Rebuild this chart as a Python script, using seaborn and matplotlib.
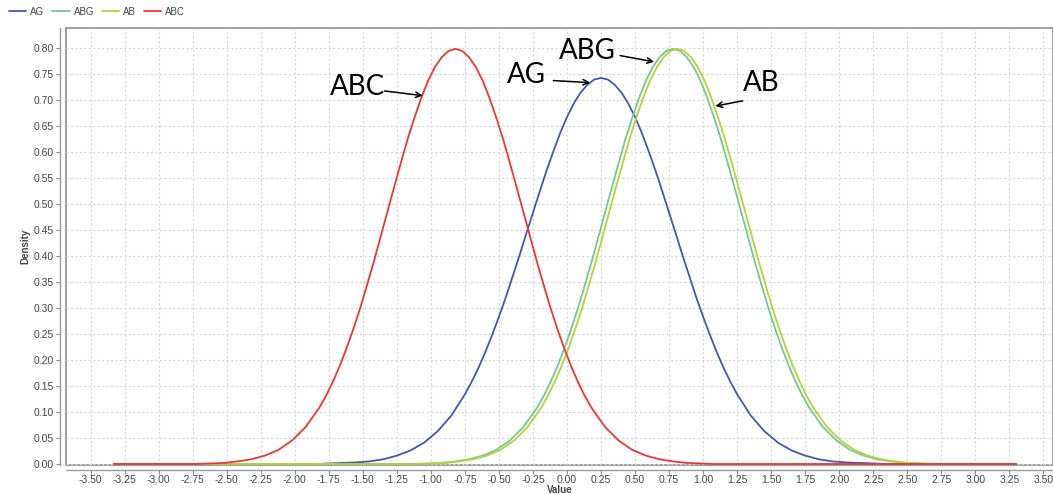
import pandas as pd
import seaborn as sns
from matplotlib import pyplot as plt
from matplotlib.patches import Rectangle
from matplotlib.ticker import MultipleLocator, FormatStrFormatter

# density curves (flat tails at 0 to the plot ends)
ag_x = [-3.33, -1.95, -1.85, -1.75, -1.65, -1.55, -1.45, -1.35, -1.25, -1.15, -1.05, -0.95, -0.85,
        -0.75, -0.70, -0.65, -0.60, -0.55, -0.50, -0.45, -0.40, -0.35, -0.30, -0.25, -0.20,
        -0.15, -0.10, -0.05, 0.00, 0.05, 0.10, 0.15, 0.20, 0.25, 0.30, 0.35, 0.40, 0.45,
        0.50, 0.55, 0.60, 0.65, 0.70, 0.75, 0.80, 0.85, 0.90, 0.95, 1.00, 1.05, 1.10,
        1.15, 1.20, 1.25, 1.35, 1.45, 1.55, 1.65, 1.75, 1.85, 1.95, 2.05, 2.15, 2.25,
        2.35, 2.45, 3.30]
ag_y = [0.0, 0.000, 0.000, 0.001, 0.002, 0.003, 0.005, 0.009, 0.016, 0.026, 0.041, 0.063, 0.093,
        0.134, 0.158, 0.185, 0.215, 0.248, 0.283, 0.320, 0.360, 0.400, 0.442, 0.483, 0.524,
        0.564, 0.601, 0.636, 0.667, 0.693, 0.714, 0.729, 0.739, 0.742, 0.739, 0.729, 0.714, 0.693,
        0.667, 0.636, 0.601, 0.564, 0.524, 0.483, 0.442, 0.400, 0.360, 0.320, 0.283, 0.248, 0.215,
        0.185, 0.158, 0.134, 0.093, 0.063, 0.041, 0.026, 0.016, 0.009, 0.005, 0.003, 0.002, 0.001,
        0.000, 0.000, 0.0]

abg_x = [-3.33, -1.12, -1.02, -0.92, -0.82, -0.72, -0.62, -0.52, -0.42, -0.32,
         -0.22, -0.17, -0.12, -0.07, -0.02, 0.03, 0.08, 0.13, 0.18, 0.23, 0.28, 0.33,
         0.38, 0.43, 0.48, 0.53, 0.58, 0.63, 0.68, 0.73, 0.78, 0.83, 0.88, 0.93, 0.98,
         1.03, 1.08, 1.13, 1.18, 1.23, 1.28, 1.33, 1.38, 1.43, 1.48, 1.53, 1.58, 1.63,
         1.68, 1.73, 1.78, 1.88, 1.98, 2.08, 2.18, 2.28, 2.38, 2.48, 2.58, 2.68, 3.30]
abg_y = [0.0, 0.000, 0.001, 0.002, 0.005, 0.009, 0.016, 0.027, 0.045, 0.071,
         0.108, 0.131, 0.158, 0.188, 0.222, 0.259, 0.299, 0.343, 0.388, 0.436, 0.484, 0.532,
         0.579, 0.625, 0.666, 0.704, 0.737, 0.763, 0.782, 0.794, 0.798, 0.794, 0.782, 0.763, 0.737,
         0.704, 0.666, 0.625, 0.579, 0.532, 0.484, 0.436, 0.388, 0.343, 0.299, 0.259, 0.222, 0.188,
         0.158, 0.131, 0.108, 0.071, 0.045, 0.027, 0.016, 0.009, 0.005, 0.002, 0.001, 0.000, 0.0]

ab_x = [-3.33, -1.09, -0.99, -0.89, -0.79, -0.69, -0.59, -0.49, -0.39, -0.29,
        -0.19, -0.14, -0.09, -0.04, 0.01, 0.06, 0.11, 0.16, 0.21, 0.26, 0.31, 0.36,
        0.41, 0.46, 0.51, 0.56, 0.61, 0.66, 0.71, 0.76, 0.81, 0.86, 0.91, 0.96, 1.01,
        1.06, 1.11, 1.16, 1.21, 1.26, 1.31, 1.36, 1.41, 1.46, 1.51, 1.56, 1.61, 1.66,
        1.71, 1.76, 1.81, 1.91, 2.01, 2.11, 2.21, 2.31, 2.41, 2.51, 2.61, 2.71, 3.30]
ab_y = [0.0, 0.000, 0.001, 0.002, 0.005, 0.009, 0.016, 0.027, 0.045, 0.071,
        0.108, 0.131, 0.158, 0.188, 0.222, 0.259, 0.299, 0.343, 0.388, 0.436, 0.484, 0.532,
        0.579, 0.625, 0.666, 0.704, 0.737, 0.763, 0.782, 0.794, 0.798, 0.794, 0.782, 0.763, 0.737,
        0.704, 0.666, 0.625, 0.579, 0.532, 0.484, 0.436, 0.388, 0.343, 0.299, 0.259, 0.222, 0.188,
        0.158, 0.131, 0.108, 0.071, 0.045, 0.027, 0.016, 0.009, 0.005, 0.002, 0.001, 0.000, 0.0]

abc_x = [-3.33, -2.72, -2.62, -2.52, -2.42, -2.32, -2.22, -2.12, -2.02, -1.92,
         -1.82, -1.77, -1.72, -1.67, -1.62, -1.57, -1.52, -1.47, -1.42, -1.37, -1.32, -1.27,
         -1.22, -1.17, -1.12, -1.07, -1.02, -0.97, -0.92, -0.87, -0.82, -0.77, -0.72, -0.67,
         -0.62, -0.57, -0.52, -0.47, -0.42, -0.37, -0.32, -0.27, -0.22, -0.17, -0.12, -0.07,
         -0.02, 0.03, 0.08, 0.13, 0.18, 0.28, 0.38, 0.48, 0.58, 0.68, 0.78, 0.88, 0.98, 1.08, 3.30]
abc_y = [0.0, 0.000, 0.001, 0.002, 0.005, 0.009, 0.016, 0.027, 0.045, 0.071,
         0.108, 0.131, 0.158, 0.188, 0.222, 0.259, 0.299, 0.343, 0.388, 0.436, 0.484, 0.532,
         0.579, 0.625, 0.666, 0.704, 0.737, 0.763, 0.782, 0.794, 0.798, 0.794, 0.782, 0.763,
         0.737, 0.704, 0.666, 0.625, 0.579, 0.532, 0.484, 0.436, 0.388, 0.343, 0.299, 0.259,
         0.222, 0.188, 0.158, 0.131, 0.108, 0.071, 0.045, 0.027, 0.016, 0.009, 0.005, 0.002, 0.001, 0.000, 0.0]

series_names = ["AG", "ABG", "AB", "ABC"]
series_colors = ["#4358ad", "#72c996", "#b3d337", "#ee3535"]

# annotation text, text centre, arrow tail, arrow tip
labels = ["ABC", "AG", "ABG", "AB"]
label_pos = [(-1.54, 0.725), (-0.30, 0.748), (0.15, 0.794), (1.43, 0.733)]
arrow_tail = [(-1.34, 0.717), (-0.10, 0.737), (0.39, 0.785), (1.29, 0.698)]
arrow_tip = [(-1.06, 0.708), (0.17, 0.733), (0.64, 0.773), (1.09, 0.688)]

frames = []
for name, xs, ys in zip(series_names,
                        [ag_x, abg_x, ab_x, abc_x],
                        [ag_y, abg_y, ab_y, abc_y]):
    frames.append(pd.DataFrame({"Value": xs, "Density": ys, "series": name}))
df = pd.concat(frames, ignore_index=True)

sns.set_theme(style="white")
plt.rcParams["font.family"] = ["Liberation Sans", "DejaVu Sans"]

fig = plt.figure(figsize=(10.53, 4.94), dpi=100)
ax = fig.add_axes([0.0627, 0.0597, 0.9373, 0.8836])

sns.lineplot(data=df, x="Value", y="Density", hue="series",
             palette=dict(zip(series_names, series_colors)),
             hue_order=series_names, estimator=None, sort=False,
             linewidth=1.3, ax=ax)

ax.set_xlim(-3.68, 3.57)
ax.set_ylim(-0.001, 0.838)
ax.xaxis.set_major_locator(MultipleLocator(0.25))
ax.yaxis.set_major_locator(MultipleLocator(0.05))
ax.xaxis.set_major_formatter(FormatStrFormatter("%.2f"))
ax.yaxis.set_major_formatter(FormatStrFormatter("%.2f"))
ax.grid(True, color="#d6d6d6", linestyle=(0, (2, 2)), linewidth=0.8)
ax.set_axisbelow(True)

ax.tick_params(axis="both", labelsize=7.5, labelcolor="#444444", colors="#888888",
               length=3, width=0.8, direction="out", bottom=True, left=True)
ax.tick_params(axis="x", pad=0.5)
ax.tick_params(axis="y", pad=2)

for side in ["top", "right"]:
    ax.spines[side].set_visible(False)
for side in ["left", "bottom"]:
    ax.spines[side].set_position(("outward", 4))
    ax.spines[side].set_color("#999999")
    ax.spines[side].set_linewidth(1.0)
ax.add_patch(Rectangle((0, 0), 1, 1, transform=ax.transAxes, fill=False,
                       edgecolor="#8c8c8c", linewidth=1.2, clip_on=False, zorder=0.5))

ax.set_xlabel("Value", fontsize=7, fontweight="bold", color="#444444", labelpad=0)
ax.set_ylabel("Density", fontsize=7, fontweight="bold", color="#444444", labelpad=2)

for text, pos, tail, tip in zip(labels, label_pos, arrow_tail, arrow_tip):
    ax.text(pos[0], pos[1], text, fontsize=20, family=["Lato", "DejaVu Sans"],
            ha="center", va="center", color="black")
    ax.annotate("", xy=tip, xytext=tail,
                arrowprops=dict(arrowstyle="->", color="black", lw=1.1,
                                mutation_scale=10, shrinkA=0, shrinkB=0))

handles, names = ax.get_legend_handles_labels()
ax.legend_.remove()
fig.legend(handles, names, loc="upper left", bbox_to_anchor=(0.002, 1.0),
           ncol=4, frameon=False, fontsize=7, handlelength=1.8,
           handletextpad=0.4, columnspacing=0.8, borderaxespad=0.3,
           labelcolor="#444444")

fig.savefig("out.png", dpi=100)
